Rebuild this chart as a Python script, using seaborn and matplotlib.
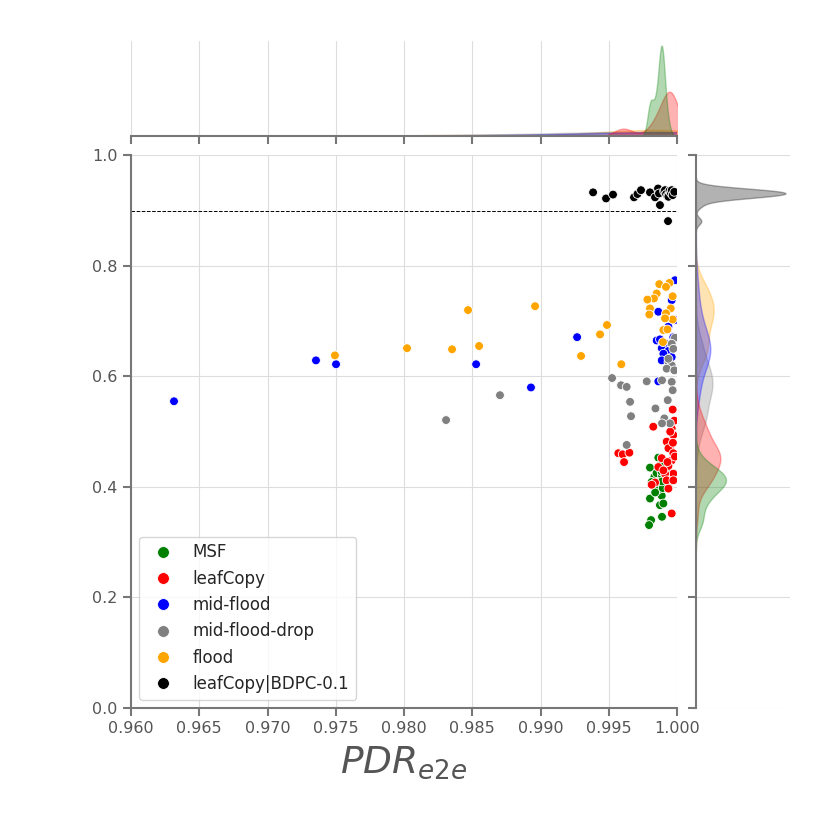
import numpy as np
import pandas as pd
import matplotlib
matplotlib.use("Agg")
import matplotlib.pyplot as plt
from matplotlib.colors import to_rgba
import seaborn as sns

groups = ["MSF", "leafCopy", "mid-flood", "mid-flood-drop", "flood", "leafCopy|BDPC-0.1"]
colors = ["green", "red", "blue", "gray", "orange", "black"]

msf_x = [0.99802, 0.99863, 0.99834, 0.99814, 0.99875, 0.99900, 0.99937, 0.99802, 0.99888, 0.99875,
         0.99900, 0.99810, 0.99795, 0.99890, 0.99850, 0.99880, 0.99920, 0.99860, 0.99910, 0.99840,
         0.99885, 0.99892, 0.99888, 0.99895, 0.99886, 0.99890]
msf_y = [0.435, 0.453, 0.418, 0.409, 0.406, 0.415, 0.400, 0.379, 0.384, 0.367,
         0.370, 0.340, 0.331, 0.346, 0.425, 0.440, 0.430, 0.395, 0.420, 0.390,
         0.412, 0.404, 0.422, 0.398, 0.428, 0.410]

leaf_x = [0.99570, 0.99602, 0.99651, 0.99612, 0.99826, 0.99968, 0.99961, 0.99973, 0.99924, 0.99948,
          0.99937, 0.99973, 0.99888, 0.99961, 0.99863, 0.99937, 0.99973, 0.99912, 0.99924, 0.99973,
          0.99839, 0.99814, 0.99937, 0.99961, 0.99980, 0.99950, 0.99900, 0.99985, 0.99930, 0.99970]
leaf_y = [0.461, 0.459, 0.462, 0.445, 0.509, 0.540, 0.506, 0.494, 0.482, 0.469,
          0.470, 0.461, 0.452, 0.448, 0.436, 0.438, 0.424, 0.424, 0.412, 0.412,
          0.408, 0.404, 0.397, 0.352, 0.520, 0.500, 0.430, 0.455, 0.445, 0.480]

mid_x = [0.96315, 0.97355, 0.97502, 0.98528, 0.98930, 0.99268, 0.99985, 0.99863, 0.99985, 0.99851,
         0.99912, 0.99888, 0.99937, 0.99961, 0.99900, 0.99888, 0.99863, 0.99973, 0.99937, 0.99875, 0.99961]
mid_y = [0.555, 0.629, 0.622, 0.622, 0.580, 0.671, 0.774, 0.717, 0.702, 0.665,
         0.660, 0.651, 0.646, 0.635, 0.641, 0.629, 0.591, 0.671, 0.690, 0.667, 0.738]

# last run sits left of the shown x range
drop_x = [0.98308, 0.98703, 0.99524, 0.99590, 0.99631, 0.99656, 0.99663, 0.99631, 0.99778, 0.99842,
          0.99890, 0.99961, 0.99968, 0.99932, 0.99907, 0.99948, 0.99890, 0.99937, 0.99961, 0.99924,
          0.99980, 0.99985, 0.99961, 0.99973, 0.99937, 0.93000]
drop_y = [0.521, 0.566, 0.597, 0.584, 0.581, 0.554, 0.528, 0.476, 0.591, 0.542,
          0.593, 0.590, 0.575, 0.557, 0.524, 0.515, 0.515, 0.626, 0.620, 0.614,
          0.611, 0.670, 0.659, 0.650, 0.632, 0.580]

flood_x = [0.97494, 0.98022, 0.98352, 0.98469, 0.98550, 0.98960, 0.99297, 0.99436, 0.99487, 0.99592,
           0.99870, 0.99944, 0.99919, 0.99851, 0.99831, 0.99783, 0.99968, 0.99802, 0.99797, 0.99954,
           0.99919, 0.99968, 0.99912, 0.99900, 0.99930, 0.99897]
flood_y = [0.638, 0.651, 0.649, 0.720, 0.655, 0.727, 0.637, 0.676, 0.693, 0.622,
           0.767, 0.769, 0.762, 0.750, 0.741, 0.739, 0.745, 0.723, 0.712, 0.723,
           0.714, 0.703, 0.705, 0.684, 0.685, 0.662]

# last run sits far left of the shown x range
bdpc_x = [0.99385, 0.99480, 0.99531, 0.99685, 0.99710, 0.99736, 0.99802, 0.99839, 0.99861, 0.99868,
          0.99875, 0.99905, 0.99912, 0.99920, 0.99930, 0.99937, 0.99945, 0.99955, 0.99961, 0.99968,
          0.99934, 0.99980, 0.60000]
bdpc_y = [0.933, 0.922, 0.929, 0.924, 0.930, 0.937, 0.933, 0.924, 0.940, 0.931,
          0.910, 0.935, 0.937, 0.930, 0.926, 0.925, 0.936, 0.932, 0.937, 0.928,
          0.881, 0.934, 0.930]

xs = [msf_x, leaf_x, mid_x, drop_x, flood_x, bdpc_x]
ys = [msf_y, leaf_y, mid_y, drop_y, flood_y, bdpc_y]
df = pd.concat([pd.DataFrame({"pdr": x, "val": y, "algo": name})
                for name, x, y in zip(groups, xs, ys)], ignore_index=True)

sns.set_style("ticks", {"axes.grid": True})
plt.rcParams.update({
    "axes.edgecolor": "#777777",
    "axes.linewidth": 1.5,
    "xtick.color": "#777777",
    "ytick.color": "#777777",
    "xtick.labelcolor": "#555555",
    "ytick.labelcolor": "#555555",
    "xtick.major.size": 6,
    "ytick.major.size": 6,
    "xtick.major.width": 1.5,
    "ytick.major.width": 1.5,
    "xtick.labelsize": 11.5,
    "ytick.labelsize": 11.5,
    "axes.labelcolor": "#555555",
    "grid.color": "#dddddd",
})

g = sns.jointplot(data=df, x="pdr", y="val", hue="algo",
                  palette=dict(zip(groups, colors)), hue_order=groups,
                  height=8.3, xlim=(0.96, 1.0), ylim=(0.0, 1.0),
                  joint_kws=dict(s=40, edgecolor="white", linewidth=0.6))

# lighter marginal outlines
for ax in [g.ax_marg_x, g.ax_marg_y]:
    for coll in ax.collections:
        rgb = coll.get_facecolor()[0][:3]
        coll.set_facecolor(to_rgba(rgb, 0.3))
        coll.set_edgecolor(to_rgba(rgb, 0.3))

g.ax_joint.axhline(0.9, color="black", ls="--", lw=0.7)
g.ax_joint.set_xticks(np.arange(0.96, 1.0001, 0.005))
g.ax_joint.set_xlabel(r"$PDR_{e2e}$", fontsize=27, labelpad=6)
g.ax_joint.set_ylabel("")
sns.move_legend(g.ax_joint, "lower left", title=None, fontsize=12, markerscale=1.35)
g.figure.subplots_adjust(left=131/830, right=790/830, bottom=122/830, top=789/830)
g.figure.savefig("out.png", dpi=100)
